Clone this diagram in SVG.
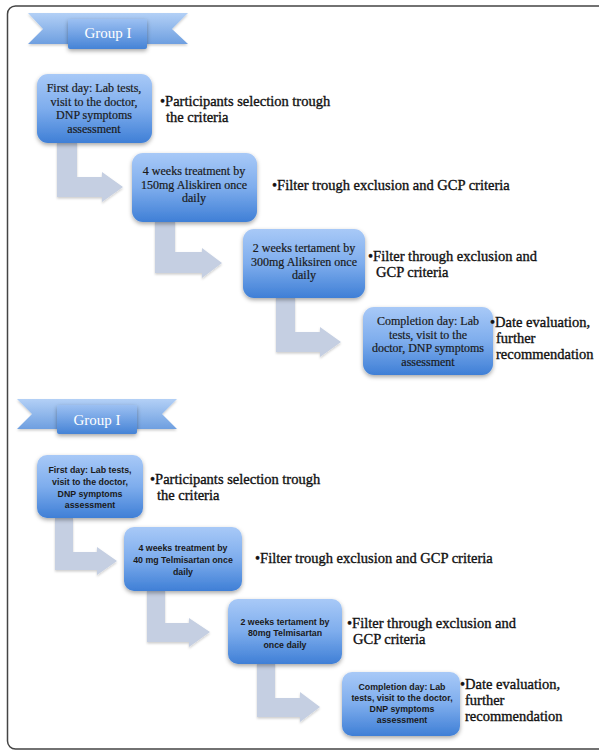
<svg xmlns="http://www.w3.org/2000/svg" width="599" height="751" viewBox="0 0 599 751">
<defs>
<linearGradient id="boxg" x1="0" y1="0" x2="0" y2="1">
<stop offset="0" stop-color="#a8c9f7"/>
<stop offset="0.5" stop-color="#7eaded"/>
<stop offset="1" stop-color="#3f7fd6"/>
</linearGradient>
<linearGradient id="wingg" x1="0" y1="0" x2="0" y2="1">
<stop offset="0" stop-color="#b3d0f6"/>
<stop offset="1" stop-color="#6e9fe0"/>
</linearGradient>
<linearGradient id="ribg" x1="0" y1="0" x2="0" y2="1">
<stop offset="0" stop-color="#9cc0f2"/>
<stop offset="1" stop-color="#4583d6"/>
</linearGradient>
<filter id="sh" x="-20%" y="-20%" width="140%" height="150%">
<feDropShadow dx="0" dy="2" stdDeviation="2" flood-color="#000" flood-opacity="0.35"/>
</filter>
<filter id="ash" x="-20%" y="-20%" width="140%" height="150%">
<feDropShadow dx="0" dy="1.5" stdDeviation="1.2" flood-color="#000" flood-opacity="0.2"/>
</filter>
</defs>
<style>
.box{fill:url(#boxg);filter:url(#sh);}
.wing{fill:url(#wingg);filter:url(#ash);}
.rib{fill:url(#ribg);filter:url(#sh);}
.arr{fill:#c5cfe2;filter:url(#ash);}
.bt{font-family:"Liberation Serif",serif;font-size:12px;fill:#1a1a1a;stroke:#1a1a1a;stroke-width:0.2;text-anchor:middle;}
.st{font-family:"Liberation Sans",sans-serif;font-size:8.8px;font-weight:bold;fill:#1a1a1a;text-anchor:middle;}
.lb{font-family:"Liberation Serif",serif;font-size:14.5px;fill:#111;stroke:#111;stroke-width:0.35;}
.gt{font-family:"Liberation Serif",serif;font-size:15px;fill:#fff;text-anchor:middle;}
</style>
<rect x="7.5" y="6" width="620" height="743" rx="8" fill="#fff" stroke="#444" stroke-width="1.5"/>

<g id="banner1">
<polygon class="wing" points="28,13 188,13 172,29 188,44 28,44 43,29"/>
<rect class="rib" x="68" y="19" width="79" height="30" rx="2"/>
<text class="gt" x="108" y="38">Group I</text>
</g>
<g id="banner2">
<polygon class="wing" points="17,399 177,399 162,414 177,429 17,429 32,414"/>
<rect class="rib" x="57" y="405" width="80" height="29" rx="2"/>
<text class="gt" x="97" y="425">Group I</text>
</g>

<g id="connectors">
<path class="arr" d="M57,142 H77 V177 H102 V172 L123,187 L102,202 V197 H57 Z"/>
<path class="arr" d="M155,221 H175 V252 H202 V248 L222,263 L202,278 V273 H155 Z"/>
<path class="arr" d="M276,297 H295 V332 H320 V327 L341,342 L320,357 V352 H276 Z"/>
<path class="arr" d="M55,518 H73 V552 H97 V547 L117,561 L97,575 V570 H55 Z"/>
<path class="arr" d="M147,590 H165 V623 H189 V618 L210,632 L189,647 V642 H147 Z"/>
<path class="arr" d="M257,663 H275 V698 H300 V692 L320,707 L300,722 V717 H257 Z"/>
</g>

<g id="n1">
<rect class="box" x="37" y="74" width="115" height="69" rx="11"/>
<text class="bt" x="94" y="92">First day: Lab tests,</text>
<text class="bt" x="94" y="105.5">visit to the doctor,</text>
<text class="bt" x="94" y="119">DNP symptoms</text>
<text class="bt" x="94" y="132.5">assessment</text>
</g>
<g id="l1">
<text class="lb" x="160" y="106">•Participants selection trough</text>
<text class="lb" x="166" y="122">the criteria</text>
</g>
<g id="n2">
<rect class="box" x="132" y="153" width="125" height="69" rx="11"/>
<text class="bt" x="194" y="175">4 weeks treatment  by</text>
<text class="bt" x="194" y="188.5">150mg Aliskiren once</text>
<text class="bt" x="194" y="202">daily</text>
</g>
<g id="l2">
<text class="lb" x="272" y="190">•Filter trough exclusion and GCP criteria</text>
</g>
<g id="n3">
<rect class="box" x="243" y="229" width="122" height="69" rx="11"/>
<text class="bt" x="304" y="252">2 weeks tertament  by</text>
<text class="bt" x="304" y="265.5">300mg Aliksiren once</text>
<text class="bt" x="304" y="279">daily</text>
</g>
<g id="l3">
<text class="lb" x="368" y="261">•Filter through exclusion and</text>
<text class="lb" x="376" y="277">GCP criteria</text>
</g>
<g id="n4">
<rect class="box" x="363" y="307" width="130" height="68" rx="11"/>
<text class="bt" x="428" y="325">Completion day: Lab</text>
<text class="bt" x="428" y="338.5">tests, visit to the</text>
<text class="bt" x="428" y="352">doctor, DNP symptoms</text>
<text class="bt" x="428" y="365.5">assessment</text>
</g>
<g id="l4">
<text class="lb" x="490" y="327">•Date evaluation,</text>
<text class="lb" x="496" y="343">further</text>
<text class="lb" x="496" y="359">recommendation</text>
</g>

<g id="n5">
<rect class="box" x="37" y="455" width="106" height="63" rx="10"/>
<text class="st" x="90" y="473">First day: Lab tests,</text>
<text class="st" x="90" y="485">visit to the doctor,</text>
<text class="st" x="90" y="497">DNP symptoms</text>
<text class="st" x="90" y="508">assessment</text>
</g>
<g id="l5">
<text class="lb" x="150" y="484">•Participants selection trough</text>
<text class="lb" x="157" y="500">the criteria</text>
</g>
<g id="n6">
<rect class="box" x="124" y="527" width="118" height="64" rx="10"/>
<text class="st" x="183" y="551">4 weeks treatment by</text>
<text class="st" x="183" y="563">40 mg Telmisartan once</text>
<text class="st" x="183" y="575">daily</text>
</g>
<g id="l6">
<text class="lb" x="255" y="563">•Filter trough exclusion and GCP criteria</text>
</g>
<g id="n7">
<rect class="box" x="228" y="599" width="114" height="65" rx="10"/>
<text class="st" x="285" y="625">2 weeks tertament by</text>
<text class="st" x="285" y="636">80mg Telmisartan</text>
<text class="st" x="285" y="648">once daily</text>
</g>
<g id="l7">
<text class="lb" x="347" y="628">•Filter through exclusion and</text>
<text class="lb" x="353" y="644">GCP criteria</text>
</g>
<g id="n8">
<rect class="box" x="342" y="672" width="118" height="64" rx="10"/>
<text class="st" x="402" y="690">Completion day:  Lab</text>
<text class="st" x="402" y="701">tests, visit to the doctor,</text>
<text class="st" x="402" y="712">DNP symptoms</text>
<text class="st" x="402" y="723">assessment</text>
</g>
<g id="l8">
<text class="lb" x="460" y="689">•Date evaluation,</text>
<text class="lb" x="465" y="705">further</text>
<text class="lb" x="465" y="721">recommendation</text>
</g>
</svg>
